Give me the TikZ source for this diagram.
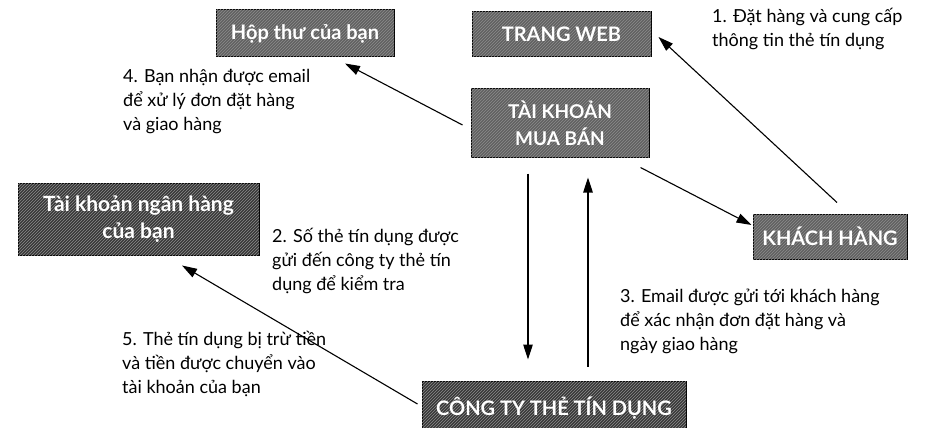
\documentclass[tikz,border=0pt]{standalone}
\usepackage{fontspec}
\setmainfont{Lato}
\usetikzlibrary{arrows.meta,patterns}
\begin{document}
\begin{tikzpicture}[x=1pt,y=-1pt,
  box/.style={draw=black, line width=1pt, fill=black!62, text=white,
    font=\fontsize{20}{26}\selectfont\bfseries, align=center, inner sep=0pt,
    postaction={pattern=north east lines, pattern color=black!45}},
  darkbox/.style={box, fill=black!78},
  lbl/.style={font=\fontsize{18}{24}\selectfont, align=left, anchor=north west, inner sep=0pt},
  arr/.style={line width=1.1pt, -{Triangle[length=15pt,width=9.5pt]}}]
\useasboundingbox (0,0) rectangle (946,428);
% boxes
\node[box, minimum width=178pt, minimum height=47pt] (hop) at (305,33.5) {Hộp thư của bạn};
\node[box, minimum width=179pt, minimum height=45pt] (web) at (561.5,34.5) {TRANG WEB};
\node[box, minimum width=178pt, minimum height=68pt, font=\fontsize{19}{27}\selectfont\bfseries] (mua) at (560,123) {TÀI KHOẢN\\MUA BÁN};
\node[darkbox, minimum width=241pt, minimum height=72pt, font=\fontsize{21}{27}\selectfont\bfseries] (ngan) at (138.5,219) {Tài khoản ngân hàng\\của bạn};
\node[box, minimum width=154pt, minimum height=45pt] (khach) at (830,236.5) {KHÁCH HÀNG};
\node[darkbox, minimum width=264pt, minimum height=54pt] (cong) at (554,408) {CÔNG TY THẺ TÍN DỤNG};
% labels
\node[lbl] (l1) at (712,8) {1. Đặt hàng và cung cấp\\thông tin thẻ tín dụng};
\node[lbl] (l4) at (123,69) {4. Bạn nhận được email\\để xử lý đơn đặt hàng\\và giao hàng};
\node[lbl] (l2) at (272,228) {2. Số thẻ tín dụng được\\gửi đến công ty thẻ tín\\dụng để kiểm tra};
\node[lbl] (l3) at (620,289) {3. Email được gửi tới khách hàng\\để xác nhận đơn đặt hàng và\\ngày giao hàng};
\node[lbl] (l5) at (122,331) {5. Thẻ tín dụng bị trừ tiền\\và tiền được chuyển vào\\tài khoản của bạn};
% arrows
\draw[arr] ([xshift=-8pt,yshift=-2pt]mua.west) -- ([xshift=40pt,yshift=-6pt]hop.south);
\draw[arr] ([xshift=7pt,yshift=11pt]khach.north) -- ([xshift=7pt,yshift=-2.5pt]web.east);
\draw[arr] ([xshift=-9pt,yshift=-10pt]mua.south east) -- ([xshift=-1pt,yshift=11.5pt]khach.west);
\draw[arr] ([xshift=-32pt,yshift=-16pt]mua.south) -- ([xshift=-26pt,yshift=21pt]cong.north);
\draw[arr] ([xshift=34pt,yshift=14pt]cong.north) -- ([xshift=28pt,yshift=-20pt]mua.south);
\draw[arr] ([xshift=-4pt,yshift=4pt]cong.west) -- ([xshift=43.5pt,yshift=-10pt]ngan.south);
\end{tikzpicture}
\end{document}
